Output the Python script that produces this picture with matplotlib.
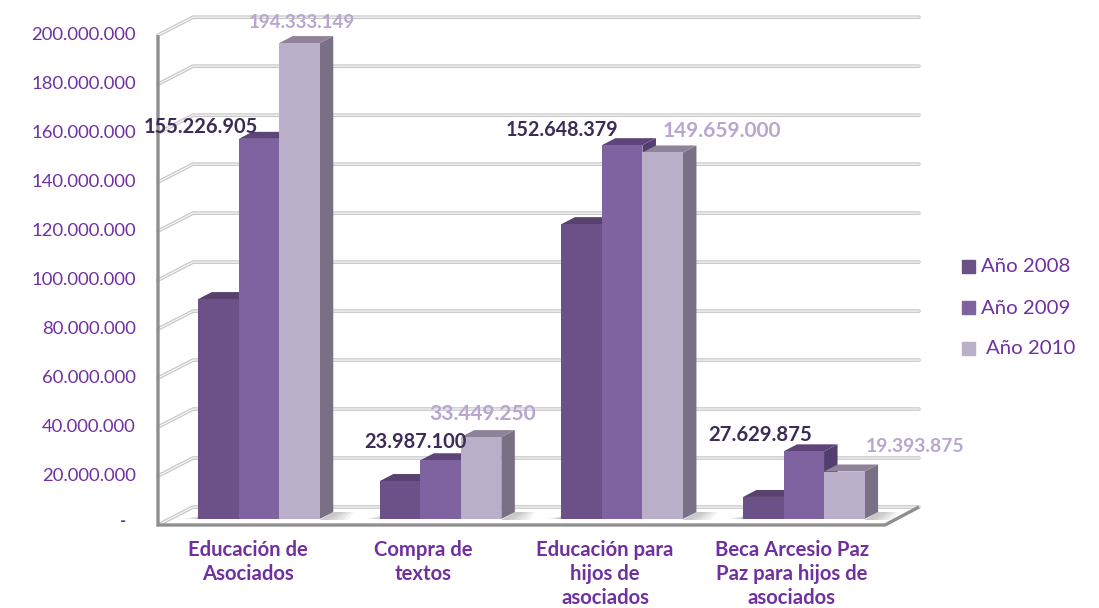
import matplotlib
matplotlib.use("Agg")
import matplotlib.pyplot as plt
from matplotlib.patches import Polygon

# data
categories = ["Educación de\nAsociados", "Compra de\ntextos", "Educación para\nhijos de\nasociados",
              "Beca Arcesio Paz\nPaz para hijos de\nasociados"]
years = ["Año 2008", "Año 2009", "Año 2010"]
v2008 = [89800000, 15500000, 120400000, 9000000]
v2009 = [155226905, 23987100, 152648379, 27629875]
v2010 = [194333149, 33449250, 149659000, 19393875]
ticks = list(range(0, 200000001, 20000000))
tick_labels = ["-", "20.000.000", "40.000.000", "60.000.000", "80.000.000", "100.000.000",
               "120.000.000", "140.000.000", "160.000.000", "180.000.000", "200.000.000"]

W, H = 1099, 608
PX_X = 181.6          # px per category
PX_Y = 2.449e-6       # px per unit of value
X0, Y0 = 259, 519     # pixel of first group centre / bar base

fig = plt.figure(figsize=(W / 100, H / 100), dpi=100)
ax = fig.add_axes([0, 0, 1, 1])
ax.set_xlim(-X0 / PX_X, (W - X0) / PX_X)
ax.set_ylim(-(H - Y0) / PX_Y, Y0 / PX_Y)
ax.axis("off")


def dx(p):
    return p / PX_X


def dy(p):
    return p / PX_Y


def px(x, y):
    return x / W, 1 - y / H


# walls, floor, gridlines
wall_x = dx(158 - X0)
end_x = dx(885 - X0)
base = -dy(6)
for t in ticks:
    xs = [wall_x, wall_x + dx(35), end_x + dx(34)]
    ys = [base + t, base + t + dy(18), base + t + dy(18)]
    ax.plot(xs, ys, color="#c6c6c6", lw=2.6, zorder=1, solid_capstyle="round")
    ax.plot(xs, ys, color="#f7f7f7", lw=0.9, zorder=1.1)

# floor shadows
for i in range(4):
    left = i - 1.5 * dx(40.5)
    right = i + 1.5 * dx(40.5)
    for k in range(5):
        ax.add_patch(Polygon([(left - dx(3 + 3 * k), 0), (left, 0), (left, dy(6 - k)),
                              (left - dx(1 * k), dy(2))],
                             color="#555555", alpha=0.07, lw=0, zorder=1.5))
        ax.add_patch(Polygon([(right, -dy(1)), (right + dx(8 + 5 * k), -dy(1)),
                              (right + dx(22 + 3 * k), dy(7)), (right + dx(13), dy(7))],
                             color="#555555", alpha=0.07, lw=0, zorder=1.5))

ax.plot([wall_x, wall_x, end_x, end_x + dx(34)],
        [base + ticks[-1], base, base, base + dy(18)],
        color="#8f8f8f", lw=2.4, zorder=2, solid_joinstyle="miter", solid_capstyle="butt")

# bars
bar_w = dx(40.5)
depth_x, depth_y = dx(13.5), dy(7)
front_cols = ["#6b5187", "#7f63a1", "#b9afc9"]
top_cols = ["#58416f", "#5d4579", "#8e8399"]
side_cols = ["#4f3a66", "#543e6f", "#7a7085"]

for j, vals in enumerate([v2008, v2009, v2010]):
    z = 3 + j
    for i, v in enumerate(vals):
        c = i + (j - 1) * bar_w
        l, r = c - bar_w / 2, c + bar_w / 2
        ax.add_patch(Polygon([(r, 0), (r + depth_x, depth_y), (r + depth_x, v + depth_y), (r, v)],
                             color=side_cols[j], lw=0, zorder=z))
        ax.add_patch(Polygon([(l, v), (l + depth_x, v + depth_y), (r + depth_x, v + depth_y), (r, v)],
                             color=top_cols[j], lw=0, zorder=z))
        ax.bar(c, v, width=bar_w, color=front_cols[j], lw=0, zorder=z + 0.1)

# tick labels
for t, lab in zip(ticks, tick_labels):
    if t == 0:
        x, y = px(123, 521)
        fig.text(x, y, lab, ha="center", va="center", color="#7030a0",
                 fontsize=12, family="Lato", fontweight="bold")
    else:
        x = 136 / W
        y = 1 - (Y0 + 6 - t * PX_Y) / H
        fig.text(x, y, lab, ha="right", va="center", color="#7030a0",
                 fontsize=13.3, family="Lato")

# value labels
dark = "#3b2b57"
light = "#b8a6d0"
value_labels = [("155.226.905", 201, 127, dark, 14.5), ("194.333.149", 302, 22, light, 13.5),
                ("23.987.100", 415, 442, dark, 14.4), ("33.449.250", 483, 414, light, 15),
                ("152.648.379", 562, 130, dark, 14.2), ("149.659.000", 722, 131, light, 15),
                ("27.629.875", 760, 435, dark, 14.6), ("19.393.875", 915, 446, light, 13.9)]
for s, x, y, col, size in value_labels:
    fx, fy = px(x, y)
    fig.text(fx, fy, s, ha="center", va="center", color=col, fontsize=size,
             family="Lato", fontweight="bold", zorder=10)

# category labels
cat_x = [248, 423, 605, 792]
for s, x in zip(categories, cat_x):
    for n, line in enumerate(s.split("\n")):
        fx, fy = px(x, 550 + n * 24)
        fig.text(fx, fy, line, ha="center", va="center", color="#7030a0", fontsize=14.6,
                 family="Lato", fontweight="bold")

# legend
leg_y = [267, 308, 349]
leg_text_x = [981, 981, 986]
for name, col, y, tx in zip(years, front_cols, leg_y, leg_text_x):
    fig.patches.append(plt.Rectangle((962 / W, 1 - (y + 6) / H), 13 / W, 13 / H, color=col,
                                     transform=fig.transFigure))
    fx, fy = px(tx, y)
    fig.text(fx, fy, name, ha="left", va="center", color="#7030a0", fontsize=14.7, family="Lato")

fig.savefig("out.png", dpi=100)
